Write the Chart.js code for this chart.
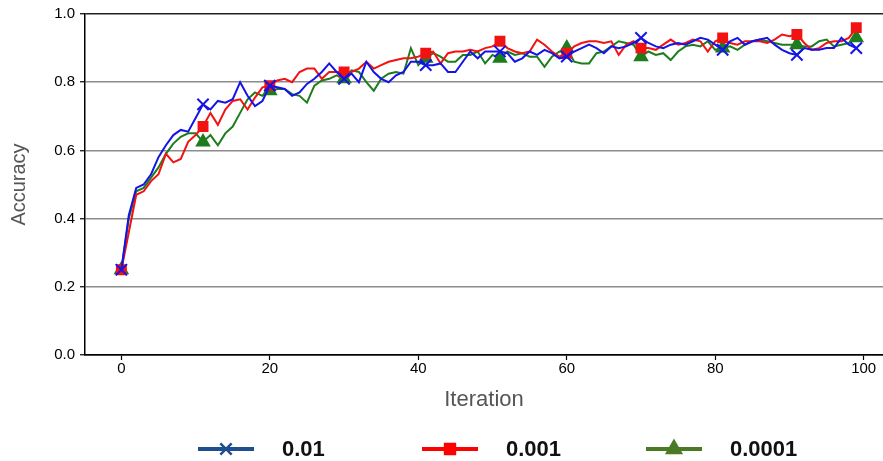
<!DOCTYPE html>
<html>
<head>
<meta charset="utf-8">
<script src="https://cdn.jsdelivr.net/npm/chart.js@4/dist/chart.umd.min.js"></script>
<style>
  html, body { margin: 0; padding: 0; background: #fff; }
  #wrap { width: 883px; height: 461px; }
</style>
</head>
<body>
<div id="wrap"><canvas id="accChart" width="883" height="461"></canvas></div>
<script>
const iterations = Array.from({ length: 100 }, (_, i) => i);

const acc_01 = [
  0.25, 0.41, 0.49, 0.50, 0.53, 0.58, 0.615, 0.645, 0.66, 0.655,
  0.695, 0.735, 0.72, 0.745, 0.74, 0.75, 0.80, 0.76, 0.73, 0.745,
  0.79, 0.785, 0.78, 0.76, 0.77, 0.795, 0.81, 0.83, 0.855, 0.83,
  0.81, 0.825, 0.80, 0.86, 0.83, 0.81, 0.80, 0.82, 0.83, 0.86,
  0.86, 0.85, 0.85, 0.855, 0.83, 0.83, 0.86, 0.89, 0.87, 0.89,
  0.89, 0.89, 0.885, 0.86, 0.87, 0.89, 0.88, 0.895, 0.885, 0.87,
  0.875, 0.89, 0.90, 0.91, 0.90, 0.885, 0.905, 0.90, 0.905, 0.915,
  0.93, 0.915, 0.905, 0.90, 0.91, 0.915, 0.91, 0.92, 0.93, 0.925,
  0.91, 0.895, 0.92, 0.93, 0.91, 0.92, 0.925, 0.93, 0.91, 0.895,
  0.885, 0.88, 0.90, 0.895, 0.895, 0.90, 0.90, 0.93, 0.91, 0.90
];

const acc_001 = [
  0.25, 0.36, 0.47, 0.48, 0.51, 0.53, 0.59, 0.565, 0.575, 0.625,
  0.645, 0.67, 0.71, 0.675, 0.72, 0.745, 0.75, 0.72, 0.755, 0.785,
  0.79, 0.805, 0.81, 0.80, 0.83, 0.84, 0.84, 0.81, 0.83, 0.83,
  0.83, 0.83, 0.84, 0.86, 0.84, 0.85, 0.86, 0.865, 0.87, 0.87,
  0.875, 0.885, 0.89, 0.855, 0.885, 0.89, 0.89, 0.895, 0.89, 0.90,
  0.905, 0.92, 0.90, 0.89, 0.885, 0.89, 0.925, 0.91, 0.89, 0.875,
  0.885, 0.905, 0.915, 0.92, 0.92, 0.915, 0.92, 0.88, 0.91, 0.92,
  0.90, 0.90, 0.895, 0.91, 0.925, 0.91, 0.915, 0.925, 0.92, 0.89,
  0.92, 0.93, 0.915, 0.91, 0.92, 0.92, 0.92, 0.915, 0.925, 0.94,
  0.935, 0.94, 0.915, 0.895, 0.90, 0.915, 0.92, 0.92, 0.93, 0.96
];

const acc_0001 = [
  0.25, 0.40, 0.48, 0.49, 0.52, 0.55, 0.59, 0.62, 0.64, 0.65,
  0.65, 0.625, 0.645, 0.615, 0.65, 0.67, 0.71, 0.75, 0.77, 0.76,
  0.775, 0.78, 0.78, 0.765, 0.76, 0.74, 0.79, 0.805, 0.81, 0.82,
  0.81, 0.835, 0.83, 0.80, 0.775, 0.81, 0.825, 0.83, 0.825, 0.90,
  0.85, 0.87, 0.885, 0.875, 0.86, 0.86, 0.88, 0.88, 0.89, 0.855,
  0.88, 0.87, 0.89, 0.88, 0.885, 0.875, 0.875, 0.845, 0.875, 0.89,
  0.90, 0.86, 0.855, 0.855, 0.885, 0.89, 0.905, 0.92, 0.915, 0.91,
  0.875, 0.89, 0.88, 0.885, 0.865, 0.89, 0.905, 0.91, 0.905, 0.92,
  0.895, 0.90, 0.905, 0.895, 0.91, 0.92, 0.925, 0.92, 0.915, 0.91,
  0.91, 0.91, 0.905, 0.905, 0.92, 0.925, 0.905, 0.91, 0.915, 0.93
];

const seriesLabels = ['0.01', '0.001', '0.0001'];
const markerIdx = [0, 11, 20, 30, 41, 51, 60, 70, 81, 91, 99];
const xTicks = [0, 20, 40, 60, 80, 100];
const yTicks = [0.0, 0.2, 0.4, 0.6, 0.8, 1.0];

const FONT = '"Liberation Sans", Arial, sans-serif';

const toPoints = (values) => iterations.map((x, i) => ({ x, y: values[i] }));

const makeDataset = (label, values, color, legendColor, style, radius, legendRadius) => ({
  label,
  data: toPoints(values),
  borderColor: color,
  backgroundColor: color,
  borderWidth: 2,
  pointStyle: style,
  pointRadius: (ctx) => markerIdx.includes(ctx.dataIndex) ? radius : 0,
  pointBorderWidth: 2,
  pointBackgroundColor: color,
  pointBorderColor: color,
  legendColor,
  legendRadius
});

// legend under the axes: line + marker, then bold label (left edge of each icon)
const legendBox = { starts: [198, 422, 646], y: 449, icon: 56, gap: 28 };

const bottomLegend = {
  id: 'bottomLegend',
  afterDraw(chart) {
    const ctx = chart.ctx;
    ctx.save();
    ctx.font = 'bold 22px ' + FONT;
    ctx.textBaseline = 'middle';
    ctx.textAlign = 'left';
    chart.data.datasets.forEach((ds, i) => {
      const x = legendBox.starts[i];
      ctx.strokeStyle = ds.legendColor;
      ctx.fillStyle = ds.legendColor;
      ctx.lineWidth = 4;
      ctx.beginPath();
      ctx.moveTo(x, legendBox.y);
      ctx.lineTo(x + legendBox.icon, legendBox.y);
      ctx.stroke();
      ctx.lineWidth = 2.5;
      Chart.helpers.drawPoint(ctx, {
        pointStyle: ds.pointStyle, radius: ds.legendRadius, rotation: 0, borderWidth: 2.5
      }, x + legendBox.icon / 2, legendBox.y);
      ctx.fillStyle = '#111';
      ctx.fillText(ds.label, x + legendBox.icon + legendBox.gap, legendBox.y + 1);
    });
    ctx.restore();
  }
};

new Chart(document.getElementById('accChart'), {
  type: 'line',
  data: {
    datasets: [
      makeDataset(seriesLabels[0], acc_01, '#1414e6', '#1f4f8f', 'crossRot', 8, 8),
      makeDataset(seriesLabels[1], acc_001, '#f21212', '#ff0000', 'rect', 6.3, 7),
      makeDataset(seriesLabels[2], acc_0001, '#1d7d1d', '#4a7a23', 'triangle', 7, 8)
    ]
  },
  options: {
    responsive: false,
    animation: false,
    devicePixelRatio: 1,
    events: [],
    layout: { autoPadding: false, padding: { top: 14, left: 0, right: 0, bottom: 48 } },
    plugins: {
      legend: { display: false },
      tooltip: { enabled: false }
    },
    scales: {
      x: {
        type: 'linear',
        min: -4.9,
        max: 102.6,
        afterBuildTicks: (scale) => { scale.ticks = xTicks.map(v => ({ value: v })); },
        afterFit: (scale) => {
          scale.height = 58;
          scale.paddingLeft = 0;
          scale.paddingRight = 0;
        },
        ticks: {
          color: '#000',
          font: { family: FONT, size: 15 },
          padding: 0,
          maxRotation: 0
        },
        grid: {
          drawOnChartArea: false,
          drawTicks: true,
          tickLength: 5,
          tickColor: '#000',
          tickWidth: 1.2
        },
        border: { display: true, color: '#000', width: 1.5 },
        title: {
          display: true,
          text: 'Iteration',
          color: '#555',
          font: { family: FONT, size: 22 },
          padding: { top: 0, bottom: 0 }
        }
      },
      y: {
        type: 'linear',
        min: 0,
        max: 1,
        afterBuildTicks: (scale) => { scale.ticks = yTicks.map(v => ({ value: v })); },
        afterFit: (scale) => { scale.width = 85; },
        ticks: {
          color: '#000',
          font: { family: FONT, size: 15 },
          padding: 5,
          callback: (v) => Number(v).toFixed(1)
        },
        grid: {
          color: (ctx) => (ctx.tick && (ctx.tick.value > 0.99 || ctx.tick.value < 0.01)) ? '#222' : '#8c8c8c',
          lineWidth: 1.5,
          drawTicks: true,
          tickLength: 5,
          tickColor: '#000',
          tickWidth: 1.2
        },
        border: { display: true, color: '#000', width: 1.5 },
        title: {
          display: true,
          text: 'Accuracy',
          color: '#555',
          font: { family: FONT, size: 20 },
          padding: { top: 7, bottom: 0 }
        }
      }
    }
  },
  plugins: [bottomLegend]
});
</script>
</body>
</html>
